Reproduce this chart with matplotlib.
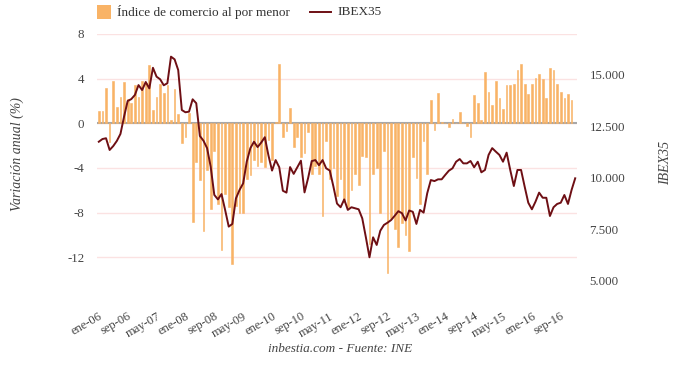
import numpy as np
import matplotlib.pyplot as plt
from matplotlib.patches import Rectangle
from matplotlib.lines import Line2D

# Tasa de variación anual del índice de comercio al por menor (%), ene-06 .. dic-16
retail = [1.1, 1.1, 3.2, -1.7, 3.8, 1.5, 2.4, 3.7, 2.2, 1.8, 3.4, 2.4,
          3.8, 3.6, 5.2, 1.2, 2.4, 3.5, 2.7, 3.4, 0.3, 3.1, 0.8, -1.8,
          -1.2, 0.9, -8.8, -3.5, -5.1, -9.6, -4.2, -7.7, -2.5, -7.2, -11.3, -6.3,
          -7.5, -12.6, -7.4, -8.0, -8.0, -5.0, -4.6, -3.3, -3.8, -3.5, -3.9, -1.5,
          -3.3, 0.1, 5.3, -1.25, -0.65, 1.4, -2.1, -1.25, -3.0, -2.7, -0.75, -4.5,
          -3.8, -4.5, -8.3, -1.6, -5.0, -4.0, -6.5, -5.0, -7.0, -7.5, -6.0, -4.5,
          -5.5, -2.9, -3.0, -10.8, -4.5, -4.0, -8.0, -2.5, -13.4, -8.5, -9.5, -11.1,
          -8.9, -10.0, -11.4, -3.0, -4.9, -7.2, -1.6, -4.5, 2.1, -0.6, 2.7, 0.1,
          0.05, -0.3, 0.35, 0.0, 1.05, 0.0, -0.2, -1.2, 2.56, 1.8, 0.3, 4.6,
          2.85, 1.65, 3.8, 2.3, 1.3, 3.45, 3.45, 3.55, 4.8, 5.3, 3.55, 2.65,
          3.55, 4.05, 4.4, 3.95, 2.3, 4.97, 4.8, 3.55, 2.85, 2.3, 2.65, 2.05]

# IBEX35, one point more than the bars
ibex = [11760, 11890, 11930, 11360, 11550, 11800, 12140, 12980, 13740, 13830, 14030, 14510,
        14270, 14660, 14350, 15350, 14920, 14790, 14500, 14600, 15890, 15760, 15240, 13300,
        13190, 13220, 13820, 13630, 12040, 11810, 11450, 10550, 9180, 8960, 9220, 8450,
        7640, 7770, 9010, 9420, 9740, 10800, 11450, 11760, 11500, 11720, 11980, 11100,
        10360, 10870, 10520, 9380, 9290, 10530, 10200, 10520, 10840, 9300, 10000, 10820,
        10870, 10620, 10870, 10470, 10360, 9590, 8760, 8580, 8960, 8450, 8580, 8530,
        8480, 8040, 7120, 6150, 7120, 6750, 7440, 7720, 7830, 7960, 8170, 8390,
        8290, 7940, 8420, 8360, 7770, 8450, 8320, 9260, 9900, 9850, 9935, 9935,
        10150, 10355, 10470, 10790, 10920, 10710, 10710, 10825, 10520, 10790, 10275, 10390,
        11120, 11450, 11280, 11120, 10790, 11230, 10390, 9610, 10390, 10390, 9580, 8800,
        8480, 8850, 9290, 9040, 9040, 8155, 8580, 8740, 8800, 9175, 8740, 9420,
        9985]

tick_labels = ['ene-06', 'sep-06', 'may-07', 'ene-08', 'sep-08', 'may-09', 'ene-10',
               'sep-10', 'may-11', 'ene-12', 'sep-12', 'may-13', 'ene-14', 'sep-14',
               'may-15', 'ene-16', 'sep-16']

BAR = '#f9b366'
LINE = '#6e0f14'
TXT = '#444444'

plt.rcParams['font.family'] = ['Liberation Serif', 'DejaVu Serif']

W, H = 680, 365
fig = plt.figure(figsize=(6.8, 3.65), dpi=100)
ax = fig.add_axes([97 / W, 63 / H, 480 / W, 268 / H])
ax2 = ax.twinx()

x_bar = np.arange(len(retail))
x_line = np.arange(len(ibex))

ax.bar(x_bar, retail, width=0.48, color=BAR, edgecolor=BAR, lw=0.4, zorder=2)
ax.axhline(0, color='#a8a8a8', lw=1.5, zorder=1)
ax.set_ylim(-16, 8)
ax.set_yticks([-12, -8, -4, 0, 4, 8])
ax.set_yticklabels(['-12', '-8', '-4', '0', '4', '8'])
ax.grid(axis='y', color='#fbe2e2', lw=1, zorder=0)
ax.set_axisbelow(True)
ax.set_xlim(-0.5, len(ibex) - 0.5)
ax.set_xticks(np.arange(0, len(tick_labels) * 8, 8))
ax.set_xticklabels(tick_labels, rotation=30, ha='right', rotation_mode='anchor')

ax2.plot(x_line, ibex, color=LINE, lw=1.4)
ax2.set_ylim(3980, 16990)
ax2.set_yticks([5000, 7500, 10000, 12500, 15000])
ax2.set_yticklabels(['5.000', '7.500', '10.000', '12.500', '15.000'])

for a in (ax, ax2):
    for s in a.spines.values():
        s.set_visible(False)
    a.tick_params(length=0, labelsize=9.3, colors=TXT)
ax.tick_params(axis='y', pad=9)
ax.tick_params(axis='x', pad=6, labelsize=9)
ax2.tick_params(axis='y', pad=9)

fig.text(17 / W, 1 - 154 / H, 'Variación anual (%)', rotation=90, ha='center',
         va='center', style='italic', fontsize=10, color=TXT)
fig.text(666 / W, 1 - 163 / H, 'IBEX35', rotation=90, ha='center',
         va='center', style='italic', fontsize=10, color=TXT)
fig.text(340 / W, 1 - 349 / H, 'inbestia.com - Fuente: INE', ha='center',
         va='center', style='italic', fontsize=9.5, color=TXT)

# legend drawn by hand: square for the bars, short segment for the line
fig.patches.append(Rectangle((97 / W, 1 - 19 / H), 14 / W, 14 / H,
                             transform=fig.transFigure, facecolor=BAR, edgecolor='none'))
fig.text(117 / W, 1 - 12 / H, 'Índice de comercio al por menor', ha='left',
         va='center', fontsize=9.5, color='#333333')
fig.lines.append(Line2D([310 / W, 331 / W], [1 - 12 / H, 1 - 12 / H],
                        transform=fig.transFigure, color=LINE, lw=1.4))
fig.text(337 / W, 1 - 12 / H, 'IBEX35', ha='left', va='center',
         fontsize=9.5, color='#333333')

fig.savefig('out.png', dpi=100)
